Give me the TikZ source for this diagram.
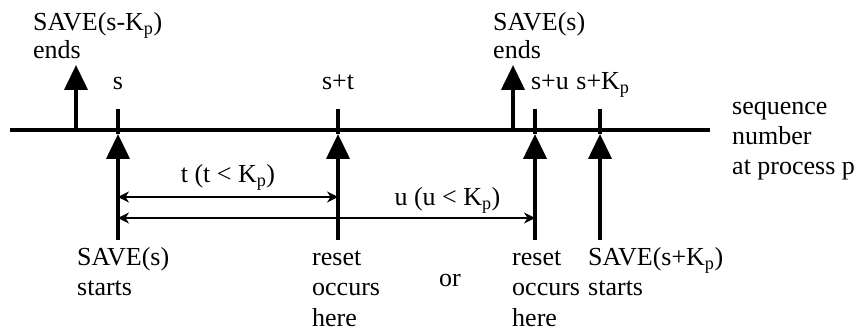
\documentclass[tikz,border=0pt]{standalone}
\usepackage{fontspec}
\setmainfont{Liberation Serif}
\usetikzlibrary{arrows.meta}
\begin{document}
\begin{tikzpicture}[x=1pt,y=-1pt]
    \tikzstyle{txt}=[inner sep=0pt, font=\fontsize{26}{30}\selectfont]
    \tikzstyle{ltxt}=[txt, anchor=base west, align=left]
    \tikzstyle{bigarrow}=[line width=4pt, -{Triangle[width=23pt,length=25pt]}]
    \tikzstyle{dimarrow}=[line width=2pt, {Stealth[length=11pt,width=11pt]}-{Stealth[length=11pt,width=11pt]}]
    \useasboundingbox (0,0) rectangle (861,336);

    % the sequence number axis
    \coordinate (axL) at (10,130);
    \coordinate (axR) at (710,130);
    \draw[line width=4.5pt] (axL) -- (axR);

    \coordinate (sA)  at (118,109);  \coordinate (sB)  at (118,134);  \coordinate (sC)  at (118,240);
    \coordinate (tA)  at (338,109);  \coordinate (tB)  at (338,134);  \coordinate (tC)  at (338,240);
    \coordinate (uA)  at (535,109);  \coordinate (uB)  at (535,134);  \coordinate (uC)  at (535,240);
    \coordinate (kA)  at (600,109);  \coordinate (kB)  at (600,134);  \coordinate (kC)  at (600,240);
    \coordinate (e1A) at (76,130);   \coordinate (e1B) at (76,65);
    \coordinate (e2A) at (513,130);  \coordinate (e2B) at (513,65);

    % ticks above the axis
    \draw[line width=4pt] (sA) -- (sB)
                          (tA) -- (tB)
                          (uA) -- (uB)
                          (kA) -- (kB);

    % events
    \draw[bigarrow] (sC) -- (sB);
    \draw[bigarrow] (tC) -- (tB);
    \draw[bigarrow] (uC) -- (uB);
    \draw[bigarrow] (kC) -- (kB);
    \draw[bigarrow] (e1A) -- (e1B);
    \draw[bigarrow] (e2A) -- (e2B);

    % distances
    \coordinate (tL) at (118,197);  \coordinate (tR) at (338,197);
    \coordinate (uL) at (118,218);  \coordinate (uR) at (535,218);
    \draw[dimarrow] (tL) -- node[txt, above=6pt] (tlbl) {t (t {\textless} K\textsubscript{p})} (tR);
    \draw[dimarrow] (uL) -- node[txt, above=4pt, pos=0.79] (ulbl) {u (u {\textless} K\textsubscript{p})} (uR);

    % labels (base = last line)
    \node[txt, anchor=base] (ls) at (118,90) {s};
    \node[txt, anchor=base] (lt) at (338,90) {s+t};
    \node[txt, anchor=base] (lu) at (550,90) {s+u};
    \node[txt, anchor=base] (lk) at (603,90) {s+K\textsubscript{p}};

    \node[ltxt] (endA) at (33,59)  {SAVE(s-K\textsubscript{p})\\[-2pt]ends};
    \node[ltxt] (endB) at (493,59) {SAVE(s)\\[-2pt]ends};
    \node[ltxt] (axis) at (732,175) {sequence\\number\\at process p};

    \node[ltxt] (startA) at (77,296)  {SAVE(s)\\starts};
    \node[ltxt] (resetA) at (312,326) {reset\\occurs\\here};
    \node[txt, anchor=base] (or) at (450,287) {or};
    \node[ltxt] (resetB) at (512,326) {reset\\occurs\\here};
    \node[ltxt] (startB) at (588,296) {SAVE(s+K\textsubscript{p})\\starts};
\end{tikzpicture}
\end{document}
